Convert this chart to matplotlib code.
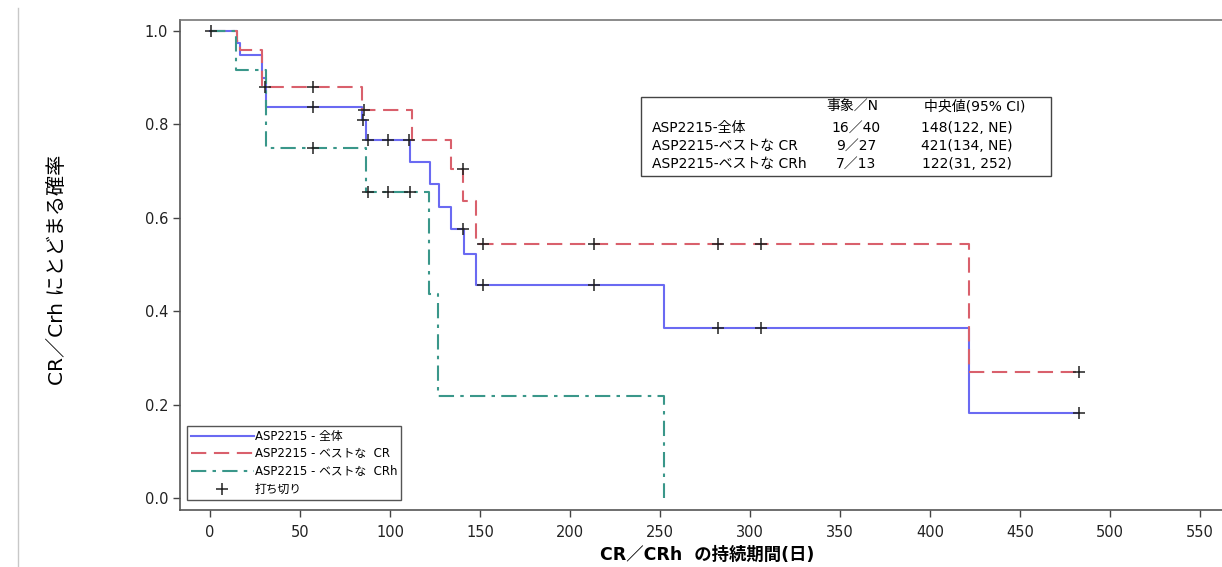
import matplotlib
matplotlib.use('Agg')
import matplotlib.pyplot as plt
from matplotlib.lines import Line2D
from matplotlib.patches import Rectangle

plt.rcParams['font.family'] = ['DejaVu Sans', 'Noto Sans CJK JP']
plt.rcParams['lines.scale_dashes'] = False

# Kaplan-Meier steps (day, probability)
t_all = [0, 14.8, 16.5, 28.7, 31, 84.3, 86.7, 111, 122, 127, 134, 141, 148, 252.4, 421.5, 482.8]
s_all = [1.0, 0.974, 0.949, 0.90, 0.838, 0.809, 0.767, 0.72, 0.672, 0.624, 0.575, 0.522, 0.457, 0.365, 0.181, 0.181]
t_cr = [0, 15, 16.5, 28.7, 84.3, 112, 134, 140.7, 147.8, 421.5, 482.8]
s_cr = [1.0, 0.979, 0.959, 0.881, 0.831, 0.767, 0.704, 0.635, 0.543, 0.269, 0.269]
t_crh = [0, 14.5, 31, 86.7, 121.9, 126.9, 252.4]
s_crh = [1.0, 0.917, 0.749, 0.655, 0.437, 0.218, 0.0]

# censored points
ct_all = [0.5, 57, 85.2, 88, 99, 110.5, 140.4, 151.9, 213.3, 282.2, 306.3, 482.8]
cs_all = [1.0, 0.838, 0.809, 0.767, 0.767, 0.767, 0.575, 0.457, 0.457, 0.365, 0.365, 0.181]
ct_cr = [30.5, 57, 85.5, 140.4, 151.9, 213.3, 282.2, 306.3, 482.8]
cs_cr = [0.881, 0.881, 0.831, 0.704, 0.543, 0.543, 0.543, 0.543, 0.269]
ct_crh = [57, 88, 99, 111]
cs_crh = [0.749, 0.655, 0.655, 0.655]

labels = ['ASP2215 - 全体', 'ASP2215 - ベストな  CR', 'ASP2215 - ベストな  CRh', '打ち切り']
tab_names = ['ASP2215-全体', 'ASP2215-ベストな CR', 'ASP2215-ベストな CRh']
tab_events = ['16／40', '9／27', '7／13']
tab_median = ['148(122, NE)', '421(134, NE)', '122(31, 252)']

c_all = '#6a6af2'
c_cr = '#d9606c'
c_crh = '#3a978a'
dash_cr = (0, (11, 5.5))
dash_crh = (0, (11, 4.5, 2.5, 4.5))

W, H = 1222, 567
fig = plt.figure(figsize=(W / 100, H / 100), dpi=100)

def fx(x):
    return x / W

def fy(y):
    return 1 - y / H

ax = fig.add_axes([fx(180), fy(510), fx(1234) - fx(180), fy(20) - fy(510)])

ax.step(t_all, s_all, where='post', color=c_all, lw=1.5)
ax.step(t_cr, s_cr, where='post', color=c_cr, lw=1.5, linestyle=dash_cr)
ax.step(t_crh, s_crh, where='post', color=c_crh, lw=1.5, linestyle=dash_crh)
for ct, cs in [(ct_all, cs_all), (ct_cr, cs_cr), (ct_crh, cs_crh)]:
    ax.plot(ct, cs, '+', color='#222222', ms=8, mew=1.1, zorder=5)

ax.set_xlim(-16.7, 568.9)
ax.set_ylim(-0.0257, 1.0236)
ax.set_xticks(range(0, 551, 50))
ax.set_yticks([0, 0.2, 0.4, 0.6, 0.8, 1.0])
ax.set_yticklabels(['0.0', '0.2', '0.4', '0.6', '0.8', '1.0'])
ax.tick_params(labelsize=10.5, length=5, color='#444444', labelcolor='#222222', width=1)
ax.tick_params(axis='x', pad=6)
ax.spines['right'].set_visible(False)
for sp in ['left', 'bottom']:
    ax.spines[sp].set_color('#555555')
    ax.spines[sp].set_linewidth(1.2)
ax.spines['top'].set_color('#777777')
ax.spines['top'].set_linewidth(1.2)

handles = [
    Line2D([], [], color=c_all, lw=1.5),
    Line2D([], [], color=c_cr, lw=1.5, linestyle=dash_cr),
    Line2D([], [], color=c_crh, lw=1.5, linestyle=dash_crh),
    Line2D([], [], color='#222222', marker='+', ls='none', ms=8, mew=1.1),
]
leg = ax.legend(handles, labels, loc='lower left', bbox_to_anchor=(0.0066, 0.0204),
                borderaxespad=0, fontsize=8.5, handlelength=5.3, handletextpad=0.1,
                labelspacing=0.4, fancybox=False, framealpha=1, borderpad=0.35)
leg.get_frame().set_edgecolor('#555555')
leg.get_frame().set_linewidth(1.0)

# summary table box
fig.add_artist(Rectangle((fx(641), fy(176)), fx(1051) - fx(641), fy(97) - fy(176),
                         transform=fig.transFigure, fill=False, edgecolor='#444444', lw=1.0))
fig.text(fx(852), fy(106), '事象／N', ha='center', va='center', fontsize=10)
fig.text(fx(975), fy(106), '中央値(95% CI)', ha='center', va='center', fontsize=10)
row_y = [128, 146, 164]
for i in range(3):
    fig.text(fx(652), fy(row_y[i]), tab_names[i], ha='left', va='center', fontsize=10)
    fig.text(fx(856), fy(row_y[i]), tab_events[i], ha='center', va='center', fontsize=10)
    fig.text(fx(967), fy(row_y[i]), tab_median[i], ha='center', va='center', fontsize=10)

fig.text(fx(57), fy(270), 'CR／Crh にとどまる確率', rotation=90, ha='center', va='center',
         fontsize=14.5)
fig.text(fx(707), fy(555), 'CR／CRh  の持続期間(日)', ha='center', va='center',
         fontsize=12.5, fontweight='bold')

fig.add_artist(Line2D([fx(18), fx(18)], [fy(8), 0], transform=fig.transFigure,
                      color='#c8c8c8', lw=1))

fig.savefig('out.png', dpi=100)
